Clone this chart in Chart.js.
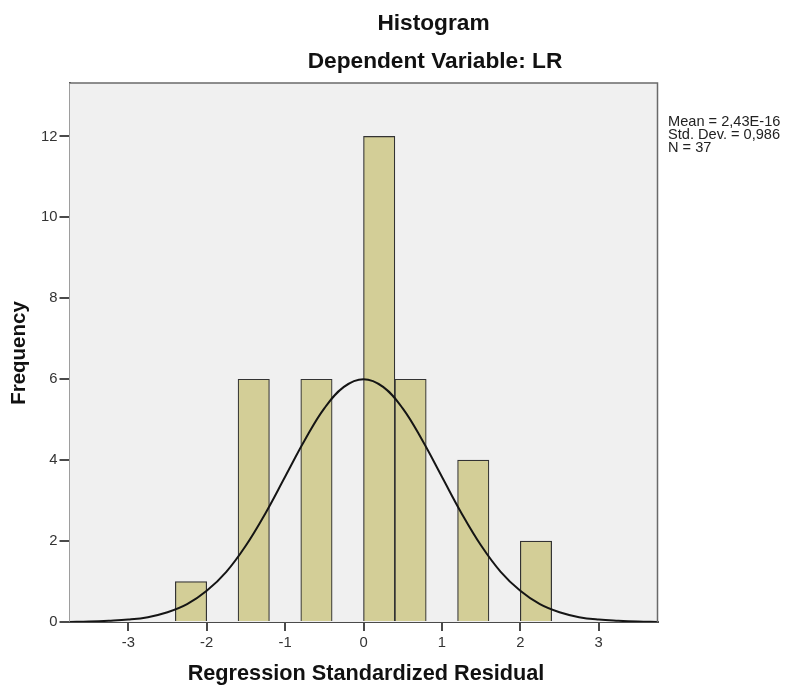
<!DOCTYPE html>
<html>
<head>
<meta charset="utf-8">
<title>Histogram</title>
<script src="https://cdn.jsdelivr.net/npm/chart.js@4/dist/chart.umd.min.js"></script>
<style>
  html, body { margin: 0; padding: 0; background: #ffffff; }
  canvas { display: block; }
</style>
</head>
<body>
<canvas id="hist" width="788" height="686"></canvas>
<script>
// Histogram bins (width 0.4): centre of each non-empty bin and its count
const binCenters = [-2.2, -1.4, -0.6, 0.2, 0.6, 1.4, 2.2];
const binCounts  = [1, 6, 6, 12, 6, 4, 2];

// Fitted normal curve, sampled along the residual axis
const curveX = [-3.75, -3.5, -3.25, -3.0, -2.75, -2.5, -2.25, -2.0, -1.75, -1.5, -1.25, -1.0, -0.75, -0.5, -0.25,
                0, 0.25, 0.5, 0.75, 1.0, 1.25, 1.5, 1.75, 2.0, 2.25, 2.5, 2.75, 3.0, 3.25, 3.5, 3.75];
const curveY = [0.00, 0.01, 0.03, 0.06, 0.12, 0.24, 0.44, 0.77, 1.24, 1.89, 2.69, 3.59, 4.49, 5.28, 5.81,
                6.00, 5.81, 5.28, 4.49, 3.59, 2.69, 1.89, 1.24, 0.77, 0.44, 0.24, 0.12, 0.06, 0.03, 0.01, 0.00];

// Axis ticks
const xTicks = [-3, -2, -1, 0, 1, 2, 3];
const yTicks = [0, 2, 4, 6, 8, 10, 12];

// Titles and summary statistics
const mainTitle = 'Histogram';
const subTitle = 'Dependent Variable: LR';
const xTitle = 'Regression Standardized Residual';
const yTitle = 'Frequency';
const statsLines = ['Mean = 2,43E-16', 'Std. Dev. = 0,986', 'N = 37'];

const FONT = '"Liberation Sans", Arial, sans-serif';
const AXIS_COLOR = '#4a4a4a';

const frame = {
  id: 'frame',
  beforeDatasetsDraw(chart) {
    const { ctx, chartArea: a } = chart;
    ctx.save();
    ctx.fillStyle = '#f0f0f0';
    ctx.fillRect(a.left, a.top, a.right - a.left, a.bottom - a.top);
    ctx.restore();
  },
  afterDraw(chart) {
    const { ctx, chartArea: a } = chart;
    ctx.save();
    // top and right edges of the plot frame
    ctx.strokeStyle = '#6a6a6a';
    ctx.lineWidth = 1.5;
    ctx.beginPath();
    ctx.moveTo(a.left, a.top);
    ctx.lineTo(a.right, a.top);
    ctx.lineTo(a.right, a.bottom);
    ctx.stroke();

    ctx.fillStyle = '#111111';
    ctx.textAlign = 'center';
    ctx.textBaseline = 'alphabetic';
    ctx.font = 'bold 22.7px ' + FONT;
    ctx.fillText(mainTitle, 433.5, 30);
    ctx.fillText(subTitle, 435, 68);

    ctx.font = 'bold 21.7px ' + FONT;
    ctx.fillText(xTitle, 366, 680);

    ctx.save();
    ctx.translate(25, 353);
    ctx.rotate(-Math.PI / 2);
    ctx.font = 'bold 20.5px ' + FONT;
    ctx.fillText(yTitle, 0, 0);
    ctx.restore();

    ctx.textAlign = 'left';
    ctx.font = '14.6px ' + FONT;
    ctx.fillStyle = '#222222';
    statsLines.forEach((t, i) => ctx.fillText(t, 668, 126.3 + i * 13));
    ctx.restore();
  }
};

new Chart(document.getElementById('hist'), {
  type: 'bar',
  data: {
    datasets: [
      {
        type: 'line',
        data: curveX.map((x, i) => ({ x, y: curveY[i] })),
        borderColor: '#151515',
        borderWidth: 2,
        pointRadius: 0,
        tension: 0.4,
        fill: false,
        order: 0
      },
      {
        type: 'bar',
        data: binCenters.map((x, i) => ({ x, y: binCounts[i] })),
        backgroundColor: '#d3ce97',
        borderColor: '#333333',
        borderWidth: 1.2,
        borderSkipped: 'bottom',
        barPercentage: 1,
        categoryPercentage: 1,
        order: 1
      }
    ]
  },
  options: {
    responsive: false,
    animation: false,
    events: [],
    layout: { padding: { top: 83, right: 130.5, left: 0, bottom: 0 } },
    plugins: { legend: { display: false }, title: { display: false }, tooltip: { enabled: false } },
    scales: {
      x: {
        type: 'linear',
        min: -3.75,
        max: 3.75,
        offset: false,
        afterFit(scale) { scale.height = 64; },
        afterBuildTicks(scale) { scale.ticks = xTicks.map(v => ({ value: v })); },
        border: { display: true, color: AXIS_COLOR, width: 2 },
        grid: { display: true, drawOnChartArea: false, drawTicks: true, tickLength: 9, color: AXIS_COLOR, lineWidth: 2, offset: false },
        ticks: { color: '#333333', font: { family: FONT, size: 14.8 }, padding: 3, maxRotation: 0, autoSkip: false }
      },
      y: {
        type: 'linear',
        min: 0,
        max: 13.32,
        afterFit(scale) { scale.width = 69.5; },
        afterBuildTicks(scale) { scale.ticks = yTicks.map(v => ({ value: v })); },
        border: { display: true, color: AXIS_COLOR, width: 2 },
        grid: { display: true, drawOnChartArea: false, drawTicks: true, tickLength: 10, color: AXIS_COLOR, lineWidth: 2 },
        ticks: { color: '#333333', font: { family: FONT, size: 14.8 }, padding: 2, autoSkip: false }
      }
    }
  },
  plugins: [frame]
});
</script>
</body>
</html>
